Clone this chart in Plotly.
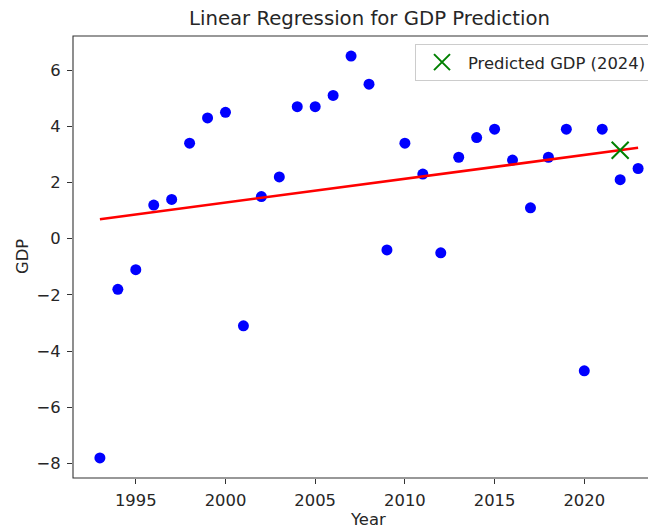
import numpy as np
import plotly.graph_objects as go

years = [1993, 1994, 1995, 1996, 1997, 1998, 1999, 2000, 2001, 2002,
         2003, 2004, 2005, 2006, 2007, 2008, 2009, 2010, 2011, 2012,
         2013, 2014, 2015, 2016, 2017, 2018, 2019, 2020, 2021, 2022, 2023]
gdp = [-7.8, -1.8, -1.1, 1.2, 1.4, 3.4, 4.3, 4.5, -3.1, 1.5,
       2.2, 4.7, 4.7, 5.1, 6.5, 5.5, -0.4, 3.4, 2.3, -0.5,
       2.9, 3.6, 3.9, 2.8, 1.1, 2.9, 3.9, -4.7, 3.9, 2.1, 2.5]
pred_year = [2022]
pred_label = "Predicted GDP (2024)"
x_ticks = [1995, 2000, 2005, 2010, 2015, 2020]
y_ticks = [-8, -6, -4, -2, 0, 2, 4, 6]

slope, intercept = np.polyfit(years, gdp, 1)
fit_vals = [slope * y + intercept for y in years]
pred_gdp = [slope * y + intercept for y in pred_year]

FONT = "DejaVu Sans"
TXT = "#262626"
TICK_SIZE = 16.4
LABEL_SIZE = 16.4

fig = go.Figure()
fig.add_trace(go.Scatter(x=years, y=gdp, mode="markers",
                         marker=dict(color="#0000ff", size=11, line=dict(width=0)),
                         showlegend=False))
fig.add_trace(go.Scatter(x=years, y=fit_vals, mode="lines",
                         line=dict(color="#ff0000", width=2.6),
                         showlegend=False))
fig.add_trace(go.Scatter(x=pred_year, y=pred_gdp, mode="markers",
                         marker=dict(symbol="x-thin", size=17, color="#008000",
                                     line=dict(color="#008000", width=2)),
                         name=pred_label, showlegend=True))

# page body has an 8px margin; figure coordinates are page coordinates minus 8
W, H = 648, 520
L, R, T, B = 65, 0, 28, 50
pw = W - L - R
ph = H - T - B
px_per_year = 17.94
x_lo = 1991.5
x_hi = x_lo + pw / px_per_year

fig.update_layout(
    width=W, height=H,
    margin=dict(l=L, r=R, t=T, b=B, pad=0),
    paper_bgcolor="white", plot_bgcolor="white",
    font=dict(family=FONT, size=TICK_SIZE, color=TXT),
    xaxis=dict(range=[x_lo, x_hi], tickvals=x_ticks, ticks="outside",
               ticklen=5, tickwidth=1, tickcolor="#333333", ticklabelstandoff=2,
               showgrid=False, zeroline=False, showline=False,
               tickfont=dict(family=FONT, size=TICK_SIZE, color=TXT)),
    yaxis=dict(range=[-8.515, 7.215], tickvals=y_ticks, ticks="outside",
               ticklen=5, tickwidth=1, tickcolor="#333333", ticklabelstandoff=3,
               showgrid=False, zeroline=False, showline=False,
               tickfont=dict(family=FONT, size=TICK_SIZE, color=TXT)),
    legend=dict(x=(644 - L) / pw, xanchor="right", y=1 - (36 - T) / ph, yanchor="top",
                bgcolor="rgba(255,255,255,0.8)", bordercolor="#cccccc", borderwidth=1,
                font=dict(family=FONT, size=16.4, color=TXT), itemwidth=42),
    shapes=[dict(type="rect", xref="paper", yref="paper",
                 x0=0, x1=(657 - L) / pw, y0=0, y1=1,
                 line=dict(color="#333333", width=1.1), layer="above")],
    annotations=[
        dict(text="Linear Regression for GDP Prediction", xref="paper", yref="paper",
             x=(361 - L) / pw, y=1 + (T - 11) / ph, xanchor="center", yanchor="middle",
             showarrow=False, font=dict(family=FONT, size=19.7, color=TXT)),
        dict(text="Year", xref="paper", yref="paper",
             x=(360 - L) / pw, y=-(511 - (H - B)) / ph, xanchor="center", yanchor="middle",
             showarrow=False, font=dict(family=FONT, size=LABEL_SIZE, color=TXT)),
        dict(text="GDP", xref="paper", yref="paper", textangle=-90,
             x=(14 - L) / pw, y=0.5, xanchor="center", yanchor="middle",
             showarrow=False, font=dict(family=FONT, size=LABEL_SIZE, color=TXT)),
    ],
)

fig.write_html("out.html")
